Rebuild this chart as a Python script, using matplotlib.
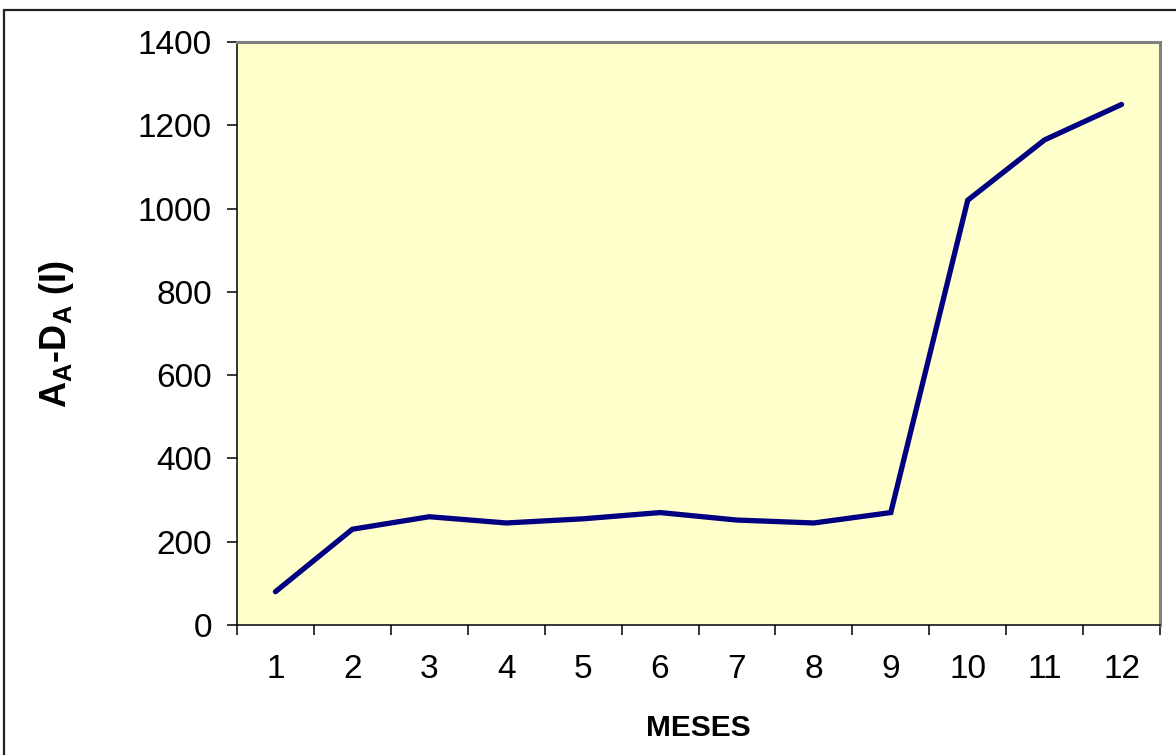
import matplotlib
matplotlib.use("Agg")
import matplotlib.pyplot as plt
from matplotlib.patches import Rectangle

plt.rcParams['font.family'] = ['Liberation Sans', 'DejaVu Sans']

# Monthly A_A - D_A values (l)
months = ["1", "2", "3", "4", "5", "6", "7", "8", "9", "10", "11", "12"]
values = [80, 230, 260, 245, 255, 270, 252, 245, 270, 1020, 1165, 1250]
y_ticks = [0, 200, 400, 600, 800, 1000, 1200, 1400]

W, H = 1176, 755
fig = plt.figure(figsize=(W / 100, H / 100), dpi=100)
fig.patch.set_facecolor("white")

# outer chart frame (only its top and left edges fall inside the image)
fig.patches.append(Rectangle((4 / W, -0.2), 1.2, 1.2 - 10 / H, transform=fig.transFigure,
                             fill=False, edgecolor="#222222", linewidth=1.6, zorder=0))

left, right, top, bottom = 237, 1160, 42, 625
ax = fig.add_axes([left / W, 1 - bottom / H, (right - left) / W, (bottom - top) / H])
ax.set_facecolor("#FFFFCC")

x = list(range(len(months)))
ax.plot(x, values, color="#000080", linewidth=3.8, solid_capstyle="round",
        solid_joinstyle="miter", zorder=3)

ax.set_xlim(-0.5, len(months) - 0.5)
ax.set_ylim(0, 1400)
ax.set_yticks(y_ticks)
ax.set_yticklabels([str(v) for v in y_ticks])

# category boundaries carry the tick marks, labels sit at the centres
ax.set_xticks([i - 0.5 for i in range(len(months) + 1)])
ax.set_xticklabels([])
ax.set_xticks(x, minor=True)
ax.set_xticklabels(months, minor=True)
ax.tick_params(axis="x", which="major", direction="out", length=7.5, width=1.1, color="black")
ax.tick_params(axis="x", which="minor", length=0, pad=21, labelsize=24)
ax.tick_params(axis="y", direction="out", length=7.5, width=1.1, color="black",
               labelsize=24, pad=10.5)

for s in ("top", "right"):
    ax.spines[s].set_color("#808080")
    ax.spines[s].set_linewidth(2.2)
for s in ("left", "bottom"):
    ax.spines[s].set_color("black")
    ax.spines[s].set_linewidth(1.1)

fig.text(698.5 / W, 1 - 728 / H, "MESES", ha="center", va="center",
         fontsize=21.5, fontweight="bold")
fig.text(57 / W, 1 - 334 / H, r"A$_\mathregular{A}$-D$_\mathregular{A}$ (I)",
         ha="center", va="center", rotation=90, fontsize=26, fontweight="bold")

fig.savefig("out.png", dpi=100, facecolor="white")
